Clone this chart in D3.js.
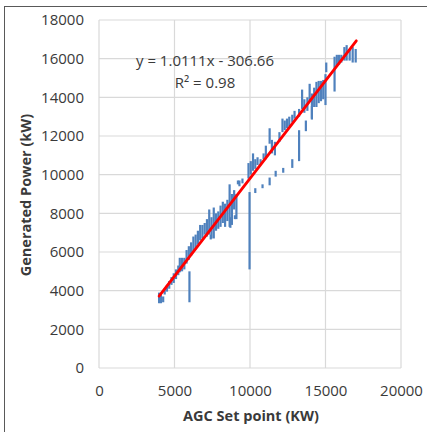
<!DOCTYPE html>
<html><head><meta charset="utf-8">
<script src="https://cdn.jsdelivr.net/npm/d3@7/dist/d3.min.js"></script>
<style>html,body{margin:0;padding:0;background:#fff;}svg{display:block;}</style>
</head><body>
<script>
// x ticks, y ticks
const xTicks = [0, 5000, 10000, 15000, 20000];
const yTicks = [0, 2000, 4000, 6000, 8000, 10000, 12000, 14000, 16000, 18000];
// observed data: each vertical dash = many samples at one set point (x, min, max)
const setPoint = [3980,4100,4250,4350,4500,4650,4800,4950,5100,5250,5350,5500,5650,5800,5950,6100,6250,6400,6550,6700,6850,7000,7150,7300,7450,7600,7750,7900,8050,8200,8350,8500,8650,8800,8950,9100,9300,9500,9900,10050,10200,10350,10500,10700,10900,11050,11300,11450,11650,11950,12150,12300,12450,12600,12800,12950,13250,13450,13600,13800,13950,14100,14250,14400,14550,14700,14850,15000,15050,15600,15750,15900,16050,16250,16400,16600,16800,17000,
  5990,9970,10350,10830,11300,11700,12200,12800,13250,13700,14100,7400,8700,9000,9200];
const powerMin = [3350,3350,3400,3800,3950,4100,4300,4400,4600,4800,4950,5000,5100,5400,5600,5800,6000,6200,6400,6600,6700,6900,6800,6900,6700,6700,7100,7200,7300,7500,7300,7600,7300,7400,8200,7700,9400,9550,9800,10000,10200,10300,10500,10500,10800,10800,11600,11100,11000,11700,12200,12300,12400,12500,12700,12900,13000,13400,13200,13300,13800,12900,13500,13500,13700,13800,13900,13600,15300,14300,15600,15700,15800,15900,15900,15900,15800,15800,
  3400,5100,9050,9300,9450,9900,10100,10350,10700,12250,12850,6650,7250,7700,9500];
const powerMax = [3900,3800,3700,4100,4300,4500,4700,4900,5100,5300,5700,5700,5700,6100,6300,6500,6800,6900,7100,7400,7400,7500,7700,8200,7800,8300,8000,8100,8400,8600,8500,8700,9500,9000,9200,9000,9700,9800,10600,10700,11100,10800,10900,10800,11100,11500,12400,11800,11700,12200,12900,12800,12900,13000,13100,13300,13400,14400,13900,14000,14700,14200,14500,14800,14850,14850,14900,15200,15800,16100,16200,16200,16200,16600,16700,16500,16600,16500,
  5000,9100,9300,9500,9850,10200,10350,10800,12300,12800,13550,6900,7800,7900,9700];
// linear trendline (as shown on chart)
const trendSlope = [1.0111];
const trendIntercept = [-306.66];
const trendRange = [3980, 17040];

const W = 427, H = 432;
const svg = d3.select("body").append("svg").attr("width", W).attr("height", H);
const L = 99, R = 401, T = 20, B = 368;
const x = d3.scaleLinear().domain([0, 20000]).range([L, R]);
const y = d3.scaleLinear().domain([0, 18000]).range([B, T]);

// outer frame
svg.append("rect").attr("x", 4.5).attr("y", 6.5).attr("width", 460).attr("height", 460)
  .attr("fill", "none").attr("stroke", "#595959").attr("stroke-width", 1);

const font = "'Open Sans', sans-serif";
// gridlines
const g = svg.append("g");
g.selectAll("line.h").data(yTicks).join("line")
  .attr("x1", L).attr("x2", R).attr("y1", d => y(d)).attr("y2", d => y(d))
  .attr("stroke", "#d9d9d9").attr("stroke-width", 1.2);
g.selectAll("line.v").data(xTicks).join("line")
  .attr("y1", T).attr("y2", B).attr("x1", d => x(d)).attr("x2", d => x(d))
  .attr("stroke", "#d9d9d9").attr("stroke-width", 1.2);

// axes labels via d3 axes
const xAxis = svg.append("g").attr("transform", `translate(0,${B})`)
  .call(d3.axisBottom(x).tickValues(xTicks).tickSize(0).tickPadding(17).tickFormat(d3.format("d")));
const yAxis = svg.append("g").attr("transform", `translate(${L},0)`)
  .call(d3.axisLeft(y).tickValues(yTicks).tickSize(0).tickPadding(15).tickFormat(d3.format("d")));
[xAxis, yAxis].forEach(a => {
  a.select(".domain").remove();
  a.selectAll("text").attr("font-family", font).attr("font-size", 15).attr("fill", "#3a3a3a");
});

// data dashes
const idx = d3.range(setPoint.length);
svg.append("g").selectAll("line").data(idx).join("line")
  .attr("x1", i => x(setPoint[i])).attr("x2", i => x(setPoint[i]))
  .attr("y1", i => y(powerMin[i])).attr("y2", i => y(powerMax[i]))
  .attr("stroke", "#4f81bd").attr("stroke-width", 2.2);

// trendline
const tl = trendRange.map(v => [v, trendSlope[0] * v + trendIntercept[0]]);
svg.append("line")
  .attr("x1", x(tl[0][0])).attr("y1", y(tl[0][1]))
  .attr("x2", x(tl[1][0])).attr("y2", y(tl[1][1]))
  .attr("stroke", "#ff0000").attr("stroke-width", 2.8).attr("stroke-linecap", "round");

// equation
svg.append("text").attr("x", 205).attr("y", 66).attr("text-anchor", "middle")
  .attr("font-family", font).attr("font-size", 15).attr("fill", "#3a3a3a")
  .text("y = 1.0111x - 306.66");
svg.append("text").attr("x", 205).attr("y", 88).attr("text-anchor", "middle")
  .attr("font-family", font).attr("font-size", 15).attr("fill", "#3a3a3a")
  .text("R² = 0.98");

// axis titles
svg.append("text").attr("x", 251).attr("y", 421).attr("text-anchor", "middle")
  .attr("font-family", font).attr("font-size", 14.5).attr("font-weight", "bold").attr("fill", "#3a3a3a")
  .text("AGC Set point (KW)");
svg.append("text").attr("transform", "translate(31,195) rotate(-90)").attr("text-anchor", "middle")
  .attr("font-family", font).attr("font-size", 14.5).attr("font-weight", "bold").attr("fill", "#3a3a3a")
  .text("Generated Power (kW)");
</script>
</body></html>
